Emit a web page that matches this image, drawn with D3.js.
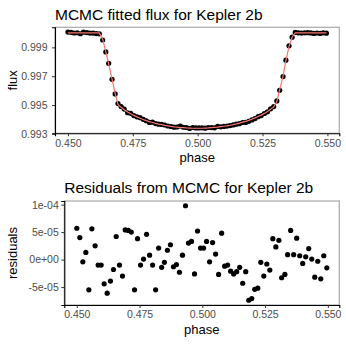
<!DOCTYPE html>
<html>
<head>
<meta charset="utf-8">
<script src="https://cdn.jsdelivr.net/npm/d3@7"></script>
<style>
body{margin:0;background:#fff;}
svg text{font-family:"Liberation Sans", Arial, Helvetica, sans-serif;}
</style>
</head>
<body>
<svg id="chart" width="346" height="346"></svg>
<script>
// phase of each observation (same for both panels)
var phase = [0.4500,0.4512,0.4524,0.4536,0.4548,0.4560,0.4573,0.4585,0.4597,0.4609,
	0.4621,0.4634,0.4646,0.4657,0.4670,0.4682,0.4693,0.4705,0.4717,0.4730,
	0.4742,0.4754,0.4766,0.4778,0.4790,0.4802,0.4814,0.4826,0.4838,0.4849,
	0.4861,0.4873,0.4885,0.4897,0.4909,0.4921,0.4933,0.4945,0.4957,0.4969,
	0.4981,0.4993,0.5005,0.5017,0.5029,0.5041,0.5053,0.5065,0.5077,0.5089,
	0.5101,0.5113,0.5125,0.5137,0.5149,0.5161,0.5173,0.5185,0.5197,0.5209,
	0.5221,0.5233,0.5245,0.5257,0.5269,0.5281,0.5293,0.5305,0.5316,0.5329,
	0.5340,0.5352,0.5364,0.5376,0.5388,0.5400,0.5412,0.5424,0.5436,0.5448,
	0.5460,0.5472,0.5484,0.5496];

// observed flux
var flux = [1.000057,1.000040,0.999996,1.000013,0.999945,1.000056,1.000025,0.999990,0.999990,0.999956,
	0.999939,0.999511,0.998682,0.997892,0.996790,0.995770,0.995104,0.994893,0.994720,0.994465,
	0.994428,0.994270,0.994181,0.994126,0.994008,0.993910,0.993795,0.993811,0.993716,0.993675,
	0.993657,0.993617,0.993547,0.993511,0.993467,0.993478,0.993538,0.993460,0.993443,0.993374,
	0.993442,0.993411,0.993411,0.993423,0.993396,0.993441,0.993440,0.993423,0.993518,0.993488,
	0.993520,0.993539,0.993574,0.993618,0.993676,0.993707,0.993788,0.993796,0.993869,0.993966,
	0.994058,0.994195,0.994270,0.994412,0.994531,0.994738,0.994893,0.995285,0.996017,0.996973,
	0.998109,0.999103,0.999709,1.000039,1.000007,0.999993,1.000005,1.000020,1.000001,0.999968,
	0.999997,0.999965,1.000007,0.999985];

// MCMC fitted model
var model = [1,1,1,1,1,1,1,1,1,1,
	1,0.99955,0.99870,0.99785,0.99680,0.99580,0.99505,0.99484,0.99467,0.99452,
	0.99439,0.99428,0.99418,0.99408,0.99400,0.99392,0.99385,0.99379,0.99373,0.99368,
	0.99364,0.99359,0.99356,0.99352,0.99349,0.99347,0.99344,0.99343,0.99341,0.99340,
	0.99339,0.99339,0.99339,0.99339,0.99340,0.99341,0.99343,0.99345,0.99347,0.99350,
	0.99353,0.99356,0.99360,0.99364,0.99369,0.99375,0.99381,0.99387,0.99394,0.99402,
	0.99411,0.99420,0.99430,0.99442,0.99455,0.99470,0.99487,0.99525,0.99605,0.99700,
	0.99810,0.99905,0.99970,1,1,1,1,1,1,1,
	1,1,1,1];

// residuals (flux - model)
var resid = [5.7e-5,4.0e-5,-0.4e-5,1.3e-5,-5.5e-5,5.6e-5,2.5e-5,-1.0e-5,-1.0e-5,-4.4e-5,
	-6.1e-5,-3.9e-5,-1.8e-5,4.2e-5,-1.0e-5,-3.0e-5,5.4e-5,5.3e-5,5.0e-5,-5.5e-5,
	3.8e-5,-1.0e-5,0.1e-5,4.6e-5,0.8e-5,-1.0e-5,-5.5e-5,2.1e-5,-1.4e-5,-0.5e-5,
	1.7e-5,2.7e-5,-1.3e-5,-0.9e-5,-2.3e-5,0.8e-5,9.8e-5,3.0e-5,3.3e-5,-2.6e-5,
	5.2e-5,2.1e-5,2.1e-5,3.3e-5,-0.4e-5,3.1e-5,1.0e-5,-2.7e-5,4.8e-5,-1.2e-5,
	-1.0e-5,-2.1e-5,-2.6e-5,-2.2e-5,-1.4e-5,-4.3e-5,-2.2e-5,-7.4e-5,-7.1e-5,-5.4e-5,
	-5.2e-5,-0.5e-5,-3.0e-5,-0.8e-5,-1.9e-5,3.8e-5,2.3e-5,3.5e-5,-3.3e-5,-2.7e-5,
	0.9e-5,5.3e-5,0.9e-5,3.9e-5,0.7e-5,-0.7e-5,0.5e-5,2.0e-5,0.1e-5,-3.2e-5,
	-0.3e-5,-3.5e-5,0.7e-5,-1.5e-5];

var phaseTicks = [0.450,0.475,0.500,0.525,0.550];
var fluxTicks = [0.993,0.995,0.997,0.999];
var residTicks = [-5e-5,0,5e-5,1e-4];
var residTickLabels = ["-5e-05","0e+00","5e-05","1e-04"];

var svg = d3.select("#chart");

// ggplot style 5% expansion
function expand(ext){
	var w = ext[1]-ext[0];
	return [ext[0]-w*0.05, ext[1]+w*0.05];
}

function drawPanel(p){
	var g = svg.append("g");
	var x = d3.scaleLinear().domain(expand(d3.extent(phase))).range([p.left, p.right]);
	var y = d3.scaleLinear().domain(expand(d3.extent(p.values))).range([p.bottom, p.top]);

	// frame: grey top/right
	g.append("rect")
		.attr("x",p.left).attr("y",p.top)
		.attr("width",p.right-p.left).attr("height",p.bottom-p.top)
		.attr("fill","none").attr("stroke","#a9a9a9").attr("stroke-width",1.2);

	var xa = g.append("g").attr("transform","translate(0,"+p.bottom+")")
		.call(d3.axisBottom(x).tickValues(phaseTicks).tickSize(3).tickPadding(3).tickFormat(d3.format(".3f")));
	var ya = g.append("g").attr("transform","translate("+p.left+",0)")
		.call(d3.axisLeft(y).tickValues(p.ticks).tickSize(3).tickPadding(p.ypad).tickFormat(p.fmt));
	[xa,ya].forEach(function(a){
		a.select(".domain").attr("stroke","#000").attr("stroke-width",1.1);
		a.selectAll(".tick line").attr("stroke","#333");
		a.selectAll(".tick text").attr("fill","#4d4d4d").style("font-size","10.5px");
	});

	g.selectAll("circle").data(phase).enter().append("circle")
		.attr("cx",function(d){ return x(d); })
		.attr("cy",function(d,i){ return y(p.values[i]); })
		.attr("r",2.6)
		.attr("fill","#000");

	if(p.line){
		var line = d3.line()
			.x(function(d){ return x(d); })
			.y(function(d,i){ return y(p.line[i]); });
		g.append("path").datum(phase).attr("d",line)
			.attr("fill","none").attr("stroke","#F8766D").attr("stroke-width",1.2);
	}

	g.append("text").attr("x",p.left).attr("y",p.titleY)
		.style("font-size","15.5px").attr("fill","#000").text(p.title);
	g.append("text").attr("x",(p.left+p.right)/2).attr("y",p.bottom+28.5)
		.attr("text-anchor","middle").style("font-size","13px").text("phase");
	g.append("text")
		.attr("transform","translate(17,"+((p.top+p.bottom)/2)+") rotate(-90)")
		.attr("text-anchor","middle").style("font-size","13px").text(p.ylab);
}

drawPanel({
	left:55, right:339.3, top:27.3, bottom:133.3,
	values:flux, line:model, ticks:fluxTicks, ypad:4.5,
	fmt:d3.format(".3f"),
	title:"MCMC fitted flux for Kepler 2b", titleY:19.5, ylab:"flux"
});

drawPanel({
	left:64.3, right:339.3, top:201, bottom:305,
	values:resid, line:null, ticks:residTicks, ypad:2.5,
	fmt:function(d,i){ return residTickLabels[i]; },
	title:"Residuals from MCMC for Kepler 2b", titleY:193.3, ylab:"residuals"
});
</script>
</body>
</html>
